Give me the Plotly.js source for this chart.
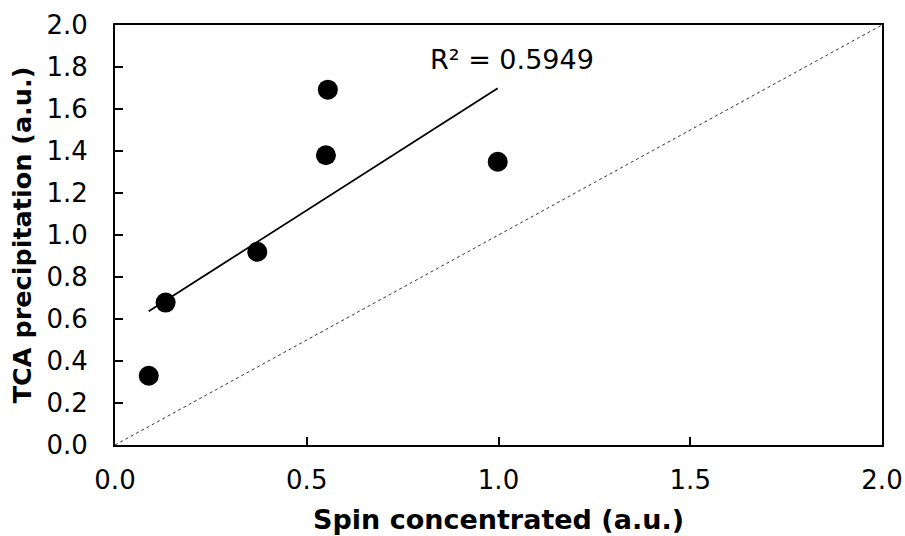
<!DOCTYPE html>
<html>
<head>
<meta charset="utf-8">
<script src="https://cdn.plot.ly/plotly-3.0.1.min.js"></script>
<style>html,body{margin:0;padding:0;background:#fff;}#chart{width:905px;height:536px;}</style>
</head>
<body>
<div id="chart"></div>
<script>
// Data
const spinConcentrated = [0.088, 0.132, 0.371, 0.550, 0.555, 0.998];
const tcaPrecipitation = [0.330, 0.678, 0.920, 1.380, 1.692, 1.349];
const identityX = [0, 2];
const identityY = [0, 2];
const rSquaredLabel = 'R² = 0.5949';
const xTickVals = [0, 0.5, 1.0, 1.5, 2.0];
const xTickText = ['0.0', '0.5', '1.0', '1.5', '2.0'];
const yTickVals = [0, 0.2, 0.4, 0.6, 0.8, 1.0, 1.2, 1.4, 1.6, 1.8, 2.0];
const yTickText = ['0.0', '0.2', '0.4', '0.6', '0.8', '1.0', '1.2', '1.4', '1.6', '1.8', '2.0'];

// Linear least-squares trendline computed from the data
const n = spinConcentrated.length;
const mx = spinConcentrated.reduce((a, b) => a + b, 0) / n;
const my = tcaPrecipitation.reduce((a, b) => a + b, 0) / n;
let sxy = 0, sxx = 0;
for (let i = 0; i < n; i++) {
  sxy += (spinConcentrated[i] - mx) * (tcaPrecipitation[i] - my);
  sxx += (spinConcentrated[i] - mx) ** 2;
}
const slope = sxy / sxx;
const intercept = my - slope * mx;
const xMin = Math.min(...spinConcentrated);
const xMax = Math.max(...spinConcentrated);
const trendX = [xMin, xMax];
const trendY = trendX.map(x => intercept + slope * x);

const FONT = 'DejaVu Sans, Verdana, sans-serif';

const traces = [
  {
    x: identityX, y: identityY, type: 'scatter', mode: 'lines',
    line: {color: '#333333', width: 1, dash: 'dot'}, hoverinfo: 'skip', showlegend: false
  },
  {
    x: trendX, y: trendY, type: 'scatter', mode: 'lines',
    line: {color: '#000000', width: 1.8}, showlegend: false
  },
  {
    x: spinConcentrated, y: tcaPrecipitation, type: 'scatter', mode: 'markers',
    marker: {color: '#000000', size: 20}, showlegend: false
  }
];

const layout = {
  width: 905, height: 536,
  margin: {l: 115, r: 23, t: 25, b: 91},
  paper_bgcolor: '#ffffff', plot_bgcolor: '#ffffff',
  font: {family: FONT, color: '#000000', size: 26},
  showlegend: false,
  xaxis: {
    range: [0, 2], tickvals: xTickVals, ticktext: xTickText,
    ticks: 'inside', ticklen: 8, tickwidth: 2, tickcolor: '#000',
    showline: true, linecolor: '#000', linewidth: 2, mirror: true,
    showgrid: false, zeroline: false,
    tickfont: {family: FONT, size: 26, color: '#000'},
    ticklabelstandoff: 11,
    title: {text: 'Spin concentrated (a.u.)', font: {family: FONT, size: 27, color: '#000', weight: 'bold'}, standoff: 16}
  },
  yaxis: {
    range: [0, 2], tickvals: yTickVals, ticktext: yTickText,
    ticks: 'inside', ticklen: 8, tickwidth: 2, tickcolor: '#000',
    showline: true, linecolor: '#000', linewidth: 2, mirror: true,
    showgrid: false, zeroline: false,
    tickfont: {family: FONT, size: 26, color: '#000'},
    ticklabelstandoff: 20,
    title: {text: 'TCA precipitation (a.u.)', font: {family: FONT, size: 25.5, color: '#000', weight: 'bold'}, standoff: 8}
  },
  annotations: [
    {
      x: 1.034, y: 1.835, xref: 'x', yref: 'y', text: rSquaredLabel, showarrow: false,
      font: {family: FONT, size: 27, color: '#000'}, xanchor: 'center', yanchor: 'middle'
    }
  ]
};

Plotly.newPlot('chart', traces, layout, {displayModeBar: false, staticPlot: true});
</script>
</body>
</html>
